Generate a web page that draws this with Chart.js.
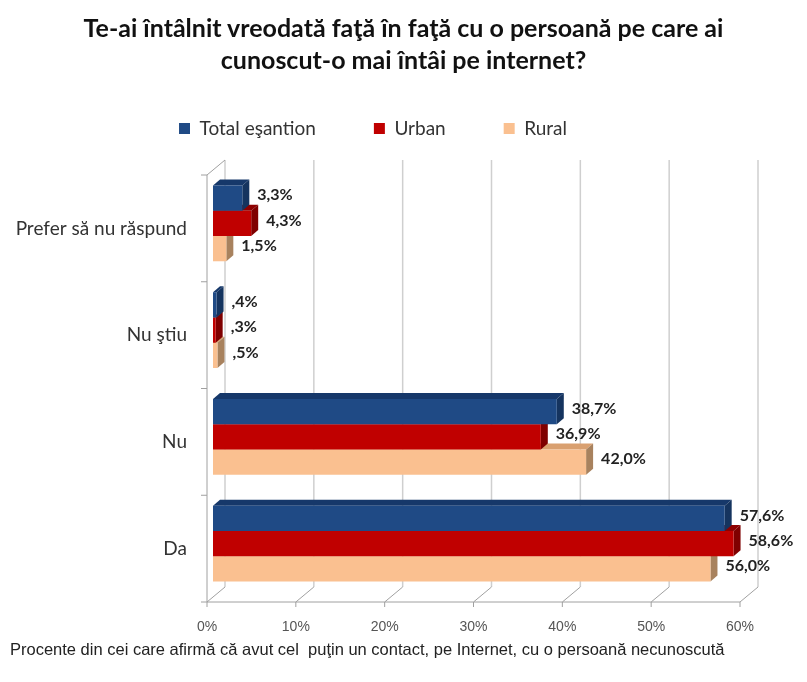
<!DOCTYPE html>
<html>
<head>
<meta charset="utf-8">
<script src="https://cdn.jsdelivr.net/npm/chart.js@4.4.1/dist/chart.umd.min.js"></script>
<style>
  html, body { margin: 0; padding: 0; background: #fff; }
  #wrap { position: relative; width: 807px; height: 682px; }
  #title { position: absolute; left: 0; top: 11px; width: 807px; text-align: center;
           font: bold 25px Lato, sans-serif; line-height: 32px; color: #111; }
  #note { position: absolute; left: 10px; top: 640px;
          font: 16.5px 'Liberation Sans', sans-serif; color: #222; white-space: pre; }
</style>
</head>
<body>
<div id="wrap">
  <canvas id="chart"></canvas>
  <div id="title">Te-ai întâlnit vreodată faţă în faţă cu o persoană pe care ai<br>cunoscut-o mai întâi pe internet?</div>
  <div id="note">Procente din cei care afirmă că avut cel  puţin un contact, pe Internet, cu o persoană necunoscută</div>
</div>
<script>
// intrebare: intalnire fata in fata cu o persoana cunoscuta pe internet
const categories = ['Prefer să nu răspund', 'Nu ştiu', 'Nu', 'Da'];
const totalEsantion = [3.3, 0.4, 38.7, 57.6];
const urban = [4.3, 0.3, 36.9, 58.6];
const rural = [1.5, 0.5, 42.0, 56.0];
const xTicks = [0, 10, 20, 30, 40, 50, 60];

const DEPTH = { dx: 7, dy: 6 };     // adancimea barelor
const FRONT = { dx: -6, dy: 5 };    // planul din fata (axa)
const BACK = { dx: 12, dy: -10 };   // peretele din spate

const sides = ['#15345f', '#7f0000', '#a8825e'];
const tops = ['#16386a', '#8e0000', '#d9a070'];

function fmt(v) {
  let s = v.toFixed(1).replace('.', ',');
  if (v < 1) s = s.slice(1);
  return s + '%';
}

function poly(ctx, pts, fill) {
  ctx.beginPath();
  ctx.moveTo(pts[0][0], pts[0][1]);
  pts.slice(1).forEach(p => ctx.lineTo(p[0], p[1]));
  ctx.closePath();
  ctx.fillStyle = fill;
  ctx.fill();
}

function seg(ctx, x1, y1, x2, y2) {
  ctx.beginPath();
  ctx.moveTo(x1, y1);
  ctx.lineTo(x2, y2);
  ctx.stroke();
}

const box3d = {
  id: 'box3d',
  beforeDatasetsDraw(chart) {
    const { ctx, chartArea: a, scales: { x } } = chart;
    ctx.save();
    // perete spate + podea
    ctx.strokeStyle = '#cfcfcf';
    ctx.lineWidth = 1.5;
    xTicks.forEach(v => {
      const px = x.getPixelForValue(v);
      seg(ctx, px + BACK.dx, a.top + BACK.dy, px + BACK.dx, a.bottom + BACK.dy);
    });
    ctx.strokeStyle = '#a0a0a0';
    ctx.lineWidth = 1;
    xTicks.forEach(v => {
      const px = x.getPixelForValue(v);
      seg(ctx, px + FRONT.dx, a.bottom + FRONT.dy, px + BACK.dx, a.bottom + BACK.dy);
      seg(ctx, px + FRONT.dx, a.bottom + FRONT.dy, px + FRONT.dx, a.bottom + FRONT.dy + 5);
    });
    // axa de jos
    seg(ctx, a.left + FRONT.dx, a.bottom + FRONT.dy, a.right + FRONT.dx, a.bottom + FRONT.dy);
    // perete stanga
    seg(ctx, a.left + FRONT.dx, a.top + FRONT.dy, a.left + FRONT.dx, a.bottom + FRONT.dy);
    seg(ctx, a.left + FRONT.dx, a.top + FRONT.dy, a.left + BACK.dx, a.top + BACK.dy);
    const step = a.height / categories.length;
    for (let i = 0; i <= categories.length; i++) {
      const py = a.top + FRONT.dy + i * step;
      seg(ctx, a.left + FRONT.dx - 6, py, a.left + FRONT.dx, py);
    }

    // bare 3D, de jos in sus ca sa se suprapuna corect
    const n = chart.data.datasets.length;
    for (let d = n - 1; d >= 0; d--) {
      const ds = chart.data.datasets[d];
      chart.getDatasetMeta(d).data.forEach(bar => {
        const p = bar.getProps(['x', 'y', 'base', 'height'], true);
        const x0 = p.base, x1 = p.x, y0 = p.y - p.height / 2, y1 = p.y + p.height / 2;
        const { dx, dy } = DEPTH;
        poly(ctx, [[x0, y0], [x1, y0], [x1 + dx, y0 - dy], [x0 + dx, y0 - dy]], tops[d]);
        poly(ctx, [[x1, y0], [x1 + dx, y0 - dy], [x1 + dx, y1 - dy], [x1, y1]], sides[d]);
        poly(ctx, [[x0, y0], [x1, y0], [x1, y1], [x0, y1]], ds.backgroundColor);
      });
    }
    ctx.restore();
    return false;
  },
  afterDraw(chart) {
    const { ctx } = chart;
    ctx.save();
    ctx.font = 'bold 16px Lato, sans-serif';
    ctx.fillStyle = '#222';
    ctx.textBaseline = 'middle';
    chart.data.datasets.forEach((ds, d) => {
      chart.getDatasetMeta(d).data.forEach((bar, i) => {
        const p = bar.getProps(['x', 'y'], true);
        ctx.fillText(fmt(ds.data[i]), p.x + 15, p.y - 3);
      });
    });
    ctx.restore();
  }
};

new Chart(document.getElementById('chart'), {
  type: 'bar',
  data: {
    labels: categories,
    datasets: [
      { label: 'Total eşantion', data: totalEsantion, backgroundColor: '#1f4a85' },
      { label: 'Urban', data: urban, backgroundColor: '#c00000' },
      { label: 'Rural', data: rural, backgroundColor: '#fac090' }
    ]
  },
  options: {
    indexAxis: 'y',
    responsive: true,
    maintainAspectRatio: false,
    animation: false,
    datasets: { bar: { categoryPercentage: 0.71, barPercentage: 1 } },
    layout: { padding: { left: 0, right: 61, top: 61, bottom: 0 } },
    scales: {
      x: {
        min: 0, max: 60,
        grid: { display: false, drawTicks: false },
        border: { display: false },
        ticks: {
          stepSize: 10,
          callback: v => v + '%',
          labelOffset: -6,
          padding: 22,
          color: '#555',
          font: { family: "'Liberation Sans', sans-serif", size: 14 }
        },
        afterFit(s) { s.height = 85; }
      },
      gap: {
        // spatiu gol intre legenda si grafic
        type: 'linear',
        position: 'top',
        display: true,
        grid: { display: false, drawTicks: false },
        border: { display: false },
        ticks: { display: false },
        afterFit(s) { s.height = 22; }
      },
      y: {
        grid: { display: false, drawTicks: false },
        border: { display: false },
        ticks: {
          padding: 26,
          labelOffset: 5,
          color: '#333',
          font: { family: 'Lato, sans-serif', size: 19 }
        },
        afterFit(s) { s.width = 213; }
      }
    },
    plugins: {
      legend: {
        labels: {
          boxWidth: 11, boxHeight: 11, padding: 58,
          color: '#333',
          font: { family: 'Lato, sans-serif', size: 19 }
        }
      },
      tooltip: { enabled: false }
    }
  },
  plugins: [box3d]
});
</script>
</body>
</html>
